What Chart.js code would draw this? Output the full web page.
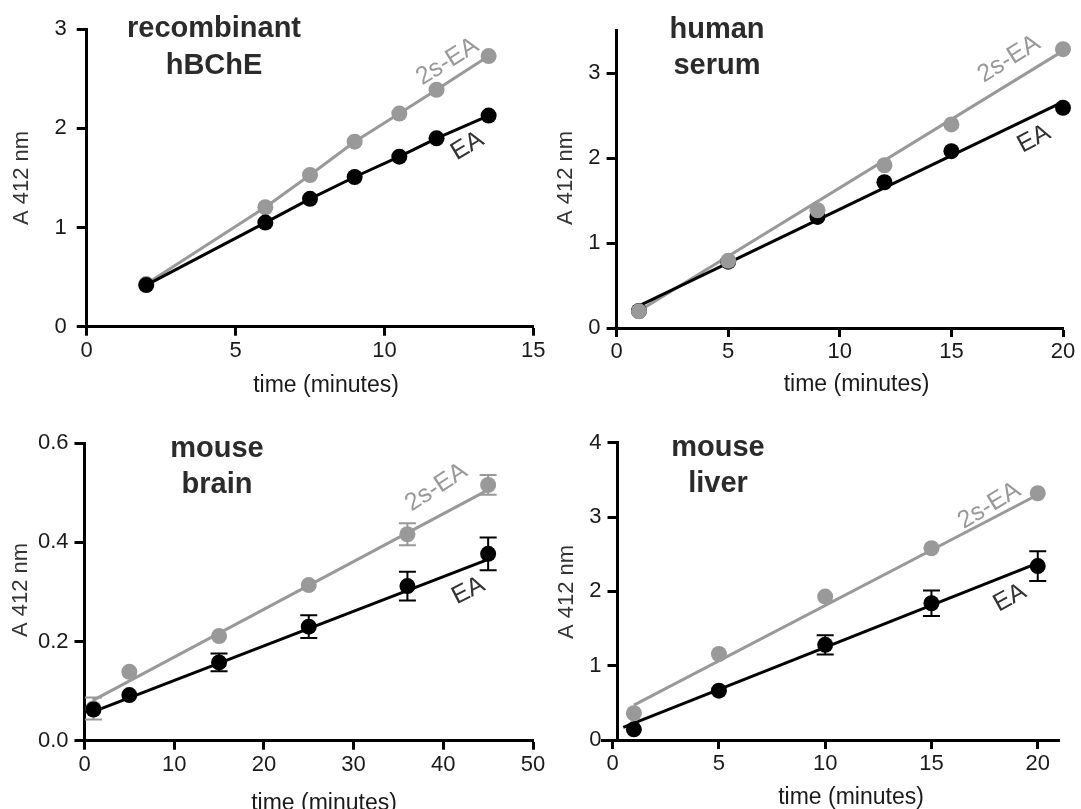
<!DOCTYPE html>
<html><head><meta charset="utf-8">
<script src="https://cdn.jsdelivr.net/npm/chart.js@4.4.1/dist/chart.umd.min.js"></script>
<style>
html,body{margin:0;padding:0;background:#fff;}
#wrap{position:relative;width:1081px;height:809px;overflow:hidden;background:#fff;}
canvas{position:absolute;left:0;top:0;}
</style></head><body><div id="wrap">
<canvas id="c1" width="1081" height="809"></canvas>
<canvas id="c2" width="1081" height="809"></canvas>
<canvas id="c3" width="1081" height="809"></canvas>
<canvas id="c4" width="1081" height="809"></canvas>
</div>
<script>
// ---------- data ----------
// Panel 1: recombinant hBChE
const time1 = [2, 6, 7.5, 9, 10.5, 11.75, 13.5];
const ea1 = [0.42, 1.05, 1.29, 1.51, 1.715, 1.90, 2.13];
const s2ea1 = [0.43, 1.205, 1.53, 1.866, 2.15, 2.39, 2.73];
const xTicks1 = [0, 5, 10, 15];
const xLabels1 = ['0', '5', '10', '15'];
const yTicks1 = [0, 1, 2, 3];
const yLabels1 = ['0', '1', '2', '3'];

// Panel 2: human serum
const time2 = [1, 5, 9, 12, 15, 20];
const ea2 = [0.20, 0.78, 1.307, 1.715, 2.08, 2.59];
const s2ea2 = [0.196, 0.79, 1.385, 1.915, 2.395, 3.28];
const fitX2 = [1, 20];
const fitEA2 = [0.26, 2.66];
const fitS2EA2 = [0.20, 3.26];
const xTicks2 = [0, 5, 10, 15, 20];
const xLabels2 = ['0', '5', '10', '15', '20'];
const yTicks2 = [0, 1, 2, 3];
const yLabels2 = ['0', '1', '2', '3'];

// Panel 3: mouse brain
const time3 = [1, 5, 15, 25, 36, 45];
const ea3 = [0.063, 0.092, 0.158, 0.230, 0.312, 0.377];
const ea3Err = [0, 0, 0.018, 0.023, 0.029, 0.033];
const s2ea3 = [0.065, 0.139, 0.211, 0.314, 0.4165, 0.516];
const s2ea3Err = [0.022, 0, 0, 0, 0.022, 0.020];
const fitX3 = [1, 45];
const fitEA3 = [0.0585, 0.366];
const fitS2EA3 = [0.082, 0.506];
const xTicks3 = [0, 10, 20, 30, 40, 50];
const xLabels3 = ['0', '10', '20', '30', '40', '50'];
const yTicks3 = [0, 0.2, 0.4, 0.6];
const yLabels3 = ['0.0', '0.2', '0.4', '0.6'];

// Panel 4: mouse liver
const time4 = [1, 5, 10, 15, 20];
const ea4 = [0.144, 0.664, 1.28, 1.84, 2.34];
const ea4Err = [0, 0, 0.13, 0.17, 0.20];
const s2ea4 = [0.36, 1.157, 1.93, 2.58, 3.32];
const fitXEA4 = [0.5, 20];
const fitEA4 = [0.17, 2.38];
const fitXS2EA4 = [1, 20];
const fitS2EA4 = [0.47, 3.30];
const xTicks4 = [0, 5, 10, 15, 20];
const xLabels4 = ['0', '5', '10', '15', '20'];
const yTicks4 = [0, 1, 2, 3, 4];
const yLabels4 = ['0', '1', '2', '3', '4'];

// ---------- style ----------
const FONT = "'Liberation Sans', Arial, Helvetica, sans-serif";
const GRAY = '#999999';
const BLACK = '#000000';
const TITLE_C = '#2b2b2b';
const LABEL_C = '#333333';
const TICK_C = '#1a1a1a';
const W = 1081, H = 809, YW = 60, XH = 60;

function pts(xs, ys) { return xs.map((x, i) => ({ x: x, y: ys[i] })); }

function pointSet(label, xs, ys, color, order, showLine, err) {
  return {
    label: label, data: pts(xs, ys), order: order, showLine: showLine,
    borderColor: color, backgroundColor: color, borderWidth: 3,
    pointRadius: 8, pointHoverRadius: 8, pointBorderWidth: 0,
    pointBackgroundColor: color, tension: 0, clip: false, errors: err || null
  };
}
function fitSet(label, xs, ys, color, order) {
  return {
    label: label, data: pts(xs, ys), order: order, showLine: true,
    borderColor: color, backgroundColor: color, borderWidth: 3,
    pointRadius: 0, pointHoverRadius: 0, tension: 0, clip: false
  };
}

const errorBars = {
  id: 'errorBars',
  beforeDatasetsDraw(chart) {
    const ctx = chart.ctx, xs = chart.scales.x, ys = chart.scales.y;
    chart.data.datasets.forEach(ds => {
      if (!ds.errors) return;
      ctx.save();
      ctx.strokeStyle = ds.borderColor; ctx.lineWidth = 2;
      ds.data.forEach((p, i) => {
        const e = ds.errors[i]; if (!e) return;
        const px = xs.getPixelForValue(p.x);
        const yt = ys.getPixelForValue(p.y + e), yb = ys.getPixelForValue(p.y - e);
        const hw = 8.5;
        ctx.beginPath();
        ctx.moveTo(px, yt); ctx.lineTo(px, yb);
        ctx.moveTo(px - hw, yt); ctx.lineTo(px + hw, yt);
        ctx.moveTo(px - hw, yb); ctx.lineTo(px + hw, yb);
        ctx.stroke();
      });
      ctx.restore();
    });
  }
};

function textPlugin(texts) {
  return {
    id: 'texts',
    afterDraw(chart) {
      const ctx = chart.ctx;
      texts.forEach(t => {
        ctx.save();
        ctx.translate(t.x, t.y);
        if (t.angle) ctx.rotate(t.angle * Math.PI / 180);
        ctx.font = (t.bold ? 'bold ' : '') + t.size + 'px ' + FONT;
        ctx.fillStyle = t.color;
        ctx.textAlign = 'center';
        ctx.textBaseline = t.baseline || 'alphabetic';
        ctx.fillText(t.text, 0, 0);
        ctx.restore();
      });
    }
  };
}

function shiftY(atX) {
  return {
    id: 'shiftY',
    afterLayout(chart) {
      if (atX === null || atX === undefined) return;
      const s = chart.scales.y;
      const d = chart.scales.x.getPixelForValue(atX) - s.right;
      s.left += d; s.right += d;
      s._gridLineItems = null; s._labelItems = null;
    }
  };
}

function build(id, p) {
  const axisCommon = (tl) => ({
    grid: { drawOnChartArea: false, drawTicks: true, tickLength: tl, tickWidth: 3, tickColor: BLACK, color: BLACK },
    border: { display: true, color: BLACK, width: 3 }
  });
  new Chart(document.getElementById(id), {
    type: 'scatter',
    data: { datasets: p.datasets },
    options: {
      responsive: false, animation: false, devicePixelRatio: 1,
      layout: { padding: { left: p.L - YW, right: W - p.R, top: p.T, bottom: H - p.B - XH } },
      plugins: { legend: { display: false }, tooltip: { enabled: false } },
      events: [],
      scales: {
        x: Object.assign(axisCommon(9), {
          type: 'linear', min: p.xmin, max: p.xmax,
          afterBuildTicks: s => { s.ticks = p.xTicks.map(v => ({ value: v })); },
          afterFit: s => { s.height = XH; },
          ticks: { color: TICK_C, font: { family: FONT, size: 22 }, padding: 2, maxRotation: 0, autoSkip: false,
                   callback: (v, i) => p.xLabels[i] }
        }),
        y: Object.assign(axisCommon(10), {
          type: 'linear', min: p.ymin, max: p.ymax,
          afterBuildTicks: s => { s.ticks = p.yTicks.map(v => ({ value: v })); },
          afterFit: s => { s.width = YW; },
          ticks: { color: TICK_C, font: { family: FONT, size: 22 }, padding: p.ypad, autoSkip: false,
                   callback: (v, i) => p.yLabels[i] }
        })
      }
    },
    plugins: [errorBars, textPlugin(p.texts), shiftY(p.yAt)]
  });
}

function ttl(text, x, y) { return { text: text, x: x, y: y, size: 29, bold: true, color: TITLE_C }; }
function ann(text, x, y, angle, color) { return { text: text, x: x, y: y, size: 25, color: color, angle: angle, baseline: 'middle' }; }
function xt(x, y) { return { text: 'time (minutes)', x: x, y: y, size: 23, color: TICK_C }; }
function yt(x, y) { return { text: 'A 412 nm', x: x, y: y, size: 22, color: LABEL_C, angle: -90, baseline: 'middle' }; }

// Panel 1
build('c1', {
  L: 86.7, R: 533.3, T: 29.3, B: 326.7, xmin: 0, xmax: 15, ymin: 0, ymax: 3, ypad: 10,
  xTicks: xTicks1, xLabels: xLabels1, yTicks: yTicks1, yLabels: yLabels1, yAt: null,
  datasets: [
    pointSet('EA', time1, ea1, BLACK, 0, true),
    pointSet('2s-EA', time1, s2ea1, GRAY, 1, true)
  ],
  texts: [ttl('recombinant', 214, 37), ttl('hBChE', 214, 74),
          ann('2s-EA', 447.5, 61.7, -32, GRAY), ann('EA', 467.5, 146, -31, LABEL_C),
          xt(326, 392), yt(22, 178)]
});

// Panel 2
build('c2', {
  L: 616.6, R: 1063, T: 30.5, B: 328, xmin: 0, xmax: 20, ymin: 0, ymax: 3.5, ypad: 6,
  xTicks: xTicks2, xLabels: xLabels2, yTicks: yTicks2, yLabels: yLabels2, yAt: null,
  datasets: [
    pointSet('2s-EA', time2, s2ea2, GRAY, 0, false),
    pointSet('EA', time2, ea2, BLACK, 1, false),
    fitSet('2s-EA fit', fitX2, fitS2EA2, GRAY, 3),
    fitSet('EA fit', fitX2, fitEA2, BLACK, 2)
  ],
  texts: [ttl('human', 717, 38), ttl('serum', 717, 74),
          ann('2s-EA', 1009, 59, -32, GRAY), ann('EA', 1034, 139, -28, LABEL_C),
          xt(856.5, 391), yt(566, 178)]
});

// Panel 3
build('c3', {
  L: 84.5, R: 533, T: 443.3, B: 740.7, xmin: 0, xmax: 50, ymin: 0, ymax: 0.6, ypad: 6,
  xTicks: xTicks3, xLabels: xLabels3, yTicks: yTicks3, yLabels: yLabels3, yAt: null,
  datasets: [
    pointSet('EA', time3, ea3, BLACK, 0, false, ea3Err),
    pointSet('2s-EA', time3, s2ea3, GRAY, 1, false, s2ea3Err),
    fitSet('EA fit', fitX3, fitEA3, BLACK, 2),
    fitSet('2s-EA fit', fitX3, fitS2EA3, GRAY, 3)
  ],
  texts: [ttl('mouse', 217, 456.5), ttl('brain', 217, 493),
          ann('2s-EA', 436.4, 487.5, -33, GRAY), ann('EA', 468.4, 590.8, -27, LABEL_C),
          xt(324, 810), yt(20.7, 590)]
});

// Panel 4
build('c4', {
  L: 602, R: 1059, T: 442.7, B: 740, xmin: -0.5, xmax: 21, ymin: 0, ymax: 4, ypad: 6,
  xTicks: xTicks4, xLabels: xLabels4, yTicks: yTicks4, yLabels: yLabels4, yAt: 0.23,
  datasets: [
    pointSet('EA', time4, ea4, BLACK, 0, false, ea4Err),
    pointSet('2s-EA', time4, s2ea4, GRAY, 1, false),
    fitSet('EA fit', fitXEA4, fitEA4, BLACK, 2),
    fitSet('2s-EA fit', fitXS2EA4, fitS2EA4, GRAY, 3)
  ],
  texts: [ttl('mouse', 718, 456), ttl('liver', 718, 492),
          ann('2s-EA', 989.4, 505.8, -31, GRAY), ann('EA', 1010, 598, -29, LABEL_C),
          xt(851, 804), yt(567, 592)]
});
</script>
</body></html>
